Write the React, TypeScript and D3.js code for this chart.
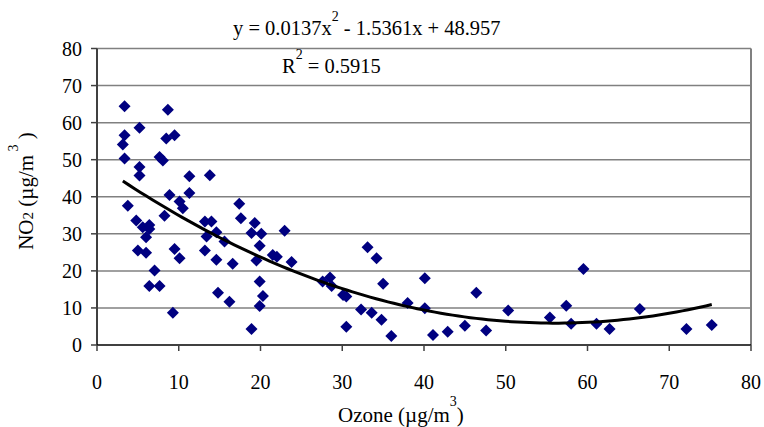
import React from "react";
import * as d3 from "d3";

const ozone: number[] = [
  3.37, 8.67, 5.2, 3.37, 3.16, 8.47, 9.49, 3.37, 7.65, 8.06, 5.2, 5.2, 11.3, 13.8, 11.3,
  3.77, 8.87, 10.1, 10.5, 4.8, 5.6, 6.4, 6.4, 6.0, 8.26, 5.0, 6.0, 9.49, 10.1, 7.04,
  6.4, 7.65, 9.28, 13.2, 14.0, 14.6, 13.4, 13.2, 14.6, 15.6, 16.6, 14.8, 16.2, 17.4, 17.6,
  19.3, 18.9, 20.1, 19.9, 19.5, 19.9, 20.3, 19.9, 18.9, 22.95, 21.5, 22.0, 23.8, 27.6, 28.5,
  28.7, 30.1, 30.5, 30.5, 32.3, 33.6, 34.8, 36.0, 33.1, 34.2, 35.0, 38.0, 40.1, 40.1, 41.1,
  42.9, 45.0, 46.4, 47.6, 50.3, 55.4, 57.4, 58.0, 59.5, 61.1, 62.7, 66.4, 72.1, 75.2,
];
const no2: number[] = [
  64.4, 63.5, 58.6, 56.6, 54.1, 55.7, 56.6, 50.3, 50.7, 49.8, 48.0, 45.7, 45.5, 45.8, 41.0,
  37.6, 40.5, 38.7, 36.9, 33.6, 31.8, 32.4, 31.3, 29.1, 34.9, 25.5, 24.9, 25.9, 23.4, 20.1,
  15.9, 15.9, 8.7, 33.3, 33.3, 30.4, 29.3, 25.5, 23.0, 27.9, 21.9, 14.1, 11.7, 38.1, 34.2,
  32.9, 30.2, 30.0, 26.8, 22.8, 17.1, 13.2, 10.5, 4.3, 30.8, 24.3, 23.8, 22.4, 17.1, 18.2,
  15.9, 13.5, 13.1, 4.9, 9.6, 8.7, 6.8, 2.4, 26.4, 23.4, 16.5, 11.3, 18.0, 9.9, 2.7,
  3.6, 5.2, 14.1, 3.9, 9.3, 7.4, 10.6, 5.7, 20.5, 5.7, 4.3, 9.7, 4.3, 5.4,
];
const xTicks: number[] = [0, 10, 20, 30, 40, 50, 60, 70, 80];
const yTicks: number[] = [0, 10, 20, 30, 40, 50, 60, 70, 80];
// trendline coefficients as printed on the chart
const trendCoef: number[] = [0.0137, -1.5361, 48.957];

const W = 764;
const H = 427;
const FONT = '"Liberation Serif", "Times New Roman", Times, serif';

export default function App() {
  const x = d3.scaleLinear().domain([0, 80]).range([97, 751]);
  const y = d3.scaleLinear().domain([0, 80]).range([345, 48.5]);

  const xMin = d3.min(ozone) as number;
  const xMax = d3.max(ozone) as number;
  const trendPts: [number, number][] = d3
    .range(0, 101)
    .map((i) => xMin + ((xMax - xMin) * i) / 100)
    .map((v) => [v, trendCoef[0] * v * v + trendCoef[1] * v + trendCoef[2]]);
  const line = d3
    .line<[number, number]>()
    .x((d) => x(d[0]))
    .y((d) => y(d[1]));

  const diamond = (cx: number, cy: number, r: number) =>
    `M${cx},${cy - r}L${cx + r},${cy}L${cx},${cy + r}L${cx - r},${cy}Z`;

  const ts = { fontFamily: FONT };

  return (
    <svg
      width={W}
      height={H}
      style={{ position: "absolute", left: 0, top: 0, background: "#fff", fontFamily: FONT }}
    >
      {/* gridlines */}
      {yTicks.map((t) =>
        t === 0 ? null : (
          <line
            key={"g" + t}
            x1={x(0)}
            x2={x(80)}
            y1={y(t)}
            y2={y(t)}
            stroke="#808080"
            strokeWidth={1.5}
          />
        )
      )}
      {/* right border */}
      <line x1={x(80)} x2={x(80)} y1={y(80)} y2={y(0)} stroke="#808080" strokeWidth={2} />
      {/* axes */}
      <line x1={x(0)} x2={x(0)} y1={y(80)} y2={y(0)} stroke="#404040" strokeWidth={2} />
      <line x1={x(0)} x2={x(80)} y1={y(0)} y2={y(0)} stroke="#000" strokeWidth={1.5} />
      {yTicks.map((t) => (
        <g key={"y" + t}>
          <line x1={x(0) - 6} x2={x(0)} y1={y(t)} y2={y(t)} stroke="#404040" strokeWidth={1.5} />
          <text x={82} y={y(t)} dy="0.35em" textAnchor="end" fontSize={20} style={ts}>
            {t}
          </text>
        </g>
      ))}
      {xTicks.map((t) => (
        <g key={"x" + t}>
          <line x1={x(t)} x2={x(t)} y1={y(0)} y2={y(0) + 6} stroke="#404040" strokeWidth={1.5} />
          <text x={x(t)} y={389} textAnchor="middle" fontSize={20} style={ts}>
            {t}
          </text>
        </g>
      ))}
      {/* points */}
      {ozone.map((v, i) => (
        <path key={"p" + i} d={diamond(x(v), y(no2[i]), 6)} fill="#000080" />
      ))}
      {/* trend line */}
      <path d={line(trendPts) || ""} fill="none" stroke="#000" strokeWidth={3} />
      {/* equation */}
      <text x={233} y={35} fontSize={20.5} style={ts}>
        <tspan>y = 0.0137x</tspan>
        <tspan dy={-14} fontSize={14}>2</tspan>
        <tspan dy={14}> - 1.5361x + 48.957</tspan>
      </text>
      <text x={282} y={73} fontSize={20.5} style={ts}>
        <tspan>R</tspan>
        <tspan dy={-14} fontSize={14}>2</tspan>
        <tspan dy={14}> = 0.5915</tspan>
      </text>
      {/* x label */}
      <text x={338} y={422} fontSize={21} style={ts}>
        <tspan>Ozone (µg/m</tspan>
        <tspan dy={-16} fontSize={14}>3</tspan>
        <tspan dy={16}>)</tspan>
      </text>
      {/* y label */}
      <text transform="translate(33,191) rotate(-90)" textAnchor="middle" fontSize={21} style={ts}>
        <tspan>NO</tspan>
        <tspan fontSize={15}>2</tspan>
        <tspan> (µg/m</tspan>
        <tspan dy={-15} fontSize={14}> 3</tspan>
        <tspan dy={15}> )</tspan>
      </text>
    </svg>
  );
}
